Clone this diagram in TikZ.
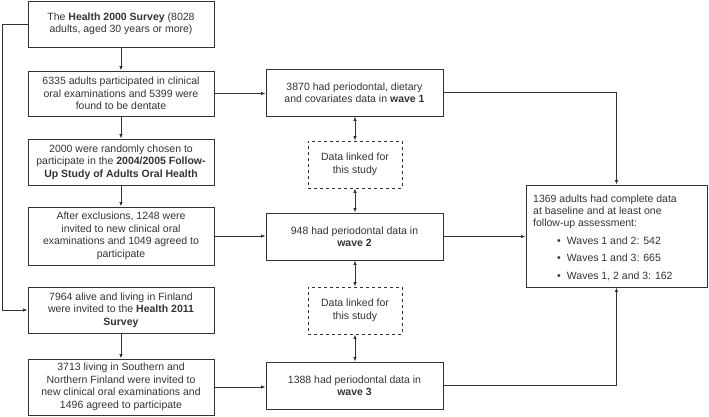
\documentclass[tikz,border=0pt]{standalone}
\usepackage{fontspec}
\setmainfont{Liberation Sans}
\usetikzlibrary{arrows.meta}
\definecolor{ink}{HTML}{333333}
\begin{document}
\begin{tikzpicture}[x=1pt,y=-1pt,
  base/.style={draw=ink, line width=0.9pt, text=ink, font=\fontsize{10.5}{12.5}\selectfont, align=center, inner sep=0pt},
  lbox/.style={base, minimum width=186pt},
  mbox/.style={base, minimum width=177pt},
  dbox/.style={base, dashed, minimum width=94pt, minimum height=47pt},
  txt/.style={text=ink, font=\fontsize{10.5}{12.5}\selectfont, inner sep=0pt, anchor=base west},
  arr/.style={draw=ink, line width=0.8pt, -{Latex[length=4.5pt,width=3.5pt]}},
  darr/.style={draw=ink, line width=0.8pt, {Latex[length=4.5pt,width=3.5pt]}-{Latex[length=4.5pt,width=3.5pt]}}]
\useasboundingbox (0,0) rectangle (709,416);
% left column
\node[lbox, minimum height=46pt] (b1) at (121,24) {The \textbf{Health 2000 Survey} (8028\\adults, aged 30 years or more)};
\node[lbox, minimum height=45pt] (b2) at (121,93.5) {6335 adults participated in clinical\\oral examinations and 5399 were\\found to be dentate};
\node[lbox, minimum height=46pt] (b3) at (121,162) {2000 were randomly chosen to\\participate in the \textbf{2004/2005 Follow-}\\\textbf{Up Study of Adults Oral Health}};
\node[lbox, minimum height=58pt] (b4) at (121,236) {After exclusions, 1248 were\\invited to new clinical oral\\examinations and 1049 agreed to\\participate};
\node[lbox, minimum height=46pt] (b5) at (121,310) {7964 alive and living in Finland\\were invited to the \textbf{Health 2011}\\\textbf{Survey}};
\node[lbox, minimum height=56pt] (b6) at (121,387) {3713 living in Southern and\\Northern Finland were invited to\\new clinical oral examinations and\\1496 agreed to participate};
% middle column
\node[mbox, minimum height=47pt] (w1) at (354.5,92.5) {3870 had periodontal, dietary\\and covariates data in \textbf{wave 1}};
\node[dbox] (d1) at (355,164.5) {Data linked for\\this study};
\node[mbox, minimum height=47pt] (w2) at (354.5,236.5) {948 had periodontal data in\\\textbf{wave 2}};
\node[dbox] (d2) at (355,310.5) {Data linked for\\this study};
\node[mbox, minimum height=47pt] (w3) at (354.5,385.5) {1388 had periodontal data in\\\textbf{wave 3}};
% right box
\node[base, minimum width=181pt, minimum height=102pt] (r) at (616.5,236) {};
\node[txt] (r1) at (533,202) {1369 adults had complete data};
\node[txt] (r2) at (533,214.5) {at baseline and at least one};
\node[txt] (r3) at (533,226.5) {follow-up assessment:};
\node[txt] (r4) at (557,244) {\textbullet\hspace{6pt}Waves 1 and 2: 542};
\node[txt] (r5) at (557,261.5) {\textbullet\hspace{6pt}Waves 1 and 3: 665};
\node[txt] (r6) at (557,279) {\textbullet\hspace{6pt}Waves 1, 2 and 3: 162};
% connectors
\draw[arr] (b1) -- (b2);
\draw[arr] (b2) -- (b3);
\draw[arr] (b3) -- (b4);
\draw[arr] (b5) -- (b6);
\draw[arr] (b1.west) -- ++(-25,0) |- (b5.west);
\draw[arr] (b2.east) -- (b2.east -| w1.west);
\draw[arr] (b4.east) -- (b4.east -| w2.west);
\draw[arr] (b6.east) -- (b6.east -| w3.west);
\draw[darr] (w1.south -| d1.north) -- (d1.north);
\draw[darr] (d1.south) -- (d1.south |- w2.north);
\draw[darr] (w2.south -| d2.north) -- (d2.north);
\draw[darr] (d2.south) -- (d2.south |- w3.north);
\draw[arr] (w1.east) -| (r.north);
\draw[arr] (w2.east) -- (w2.east -| r.west);
\draw[arr] (w3.east) -| (r.south);
\end{tikzpicture}
\end{document}
